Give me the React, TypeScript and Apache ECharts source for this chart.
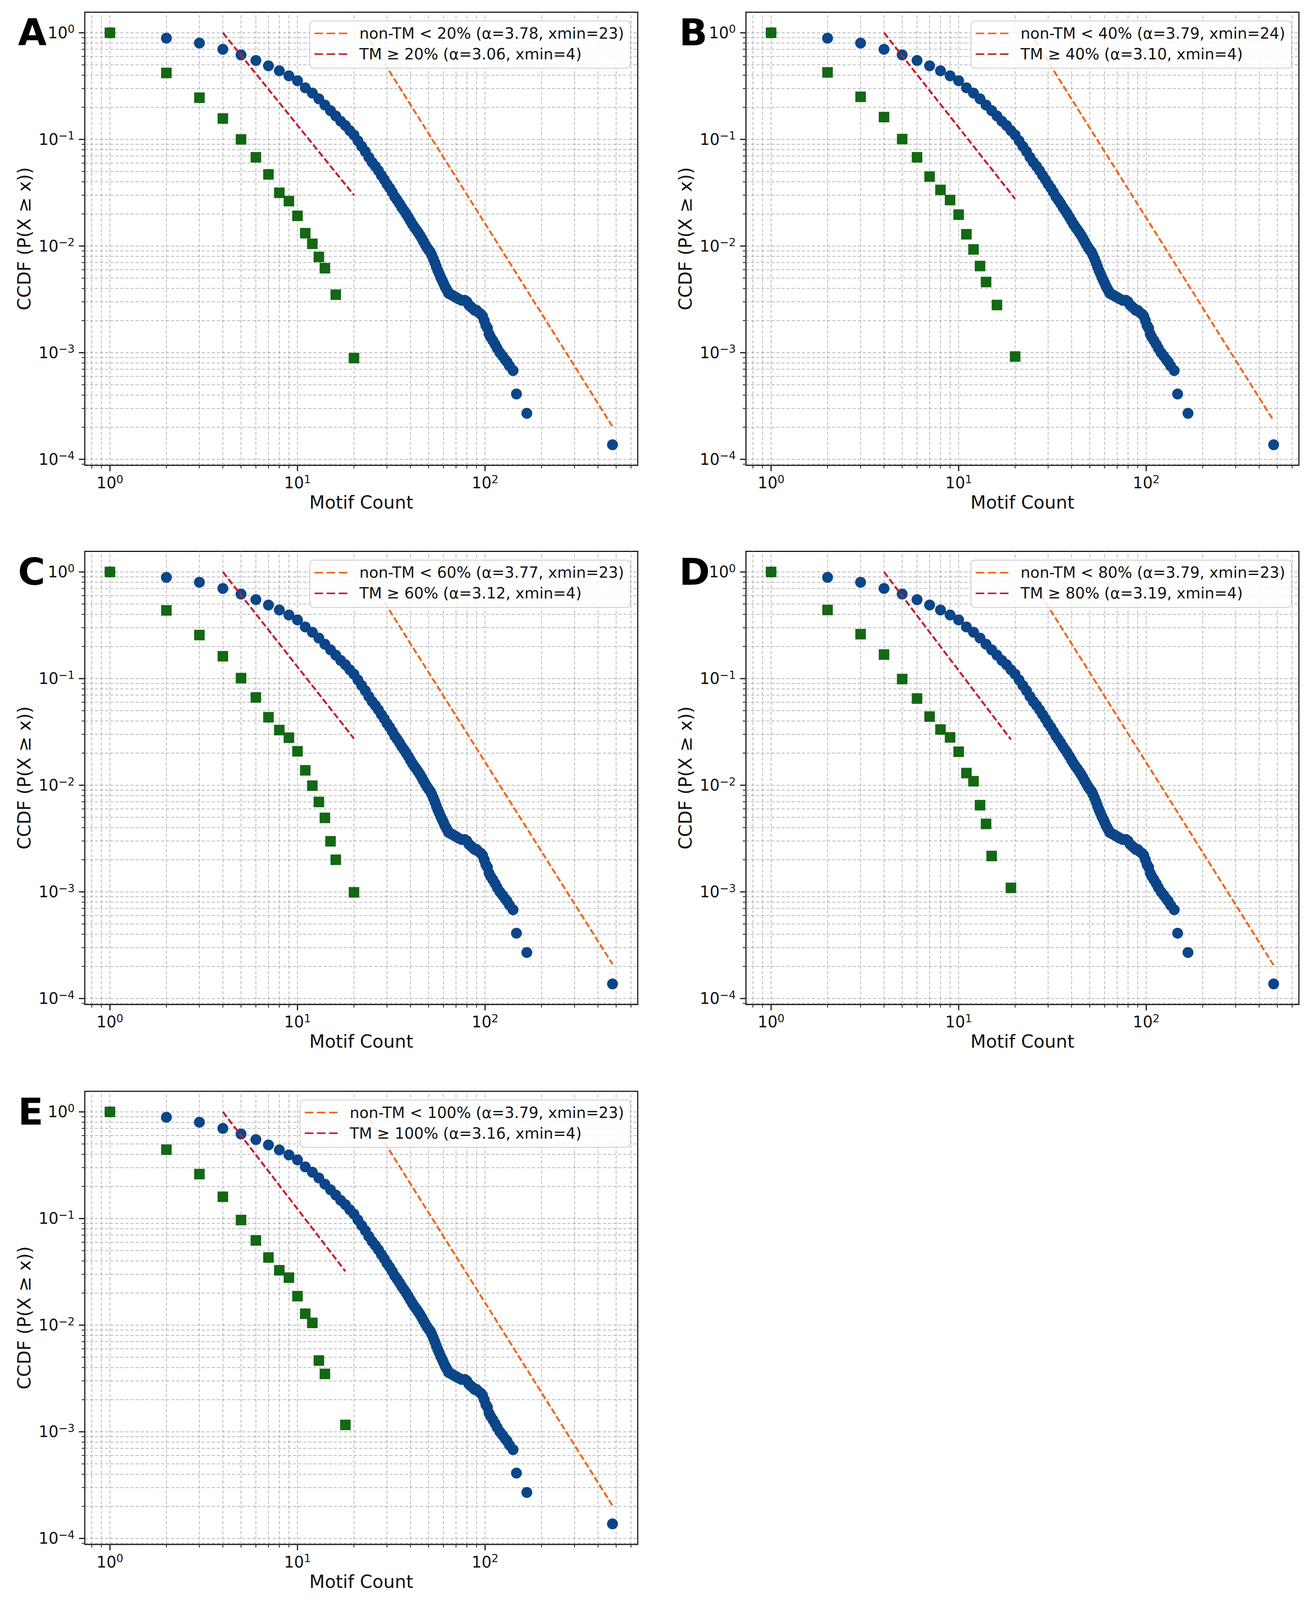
import React, { useEffect, useRef } from 'react';
import * as echarts from 'echarts';

const W = 3355;
const H = 4202;
const FONT = 'DejaVu Sans';

// ---- shared non-TM CCDF (blue circles) ----
const blueX = [1, 2, 3, 4, 5, 6, 7, 8, 9, 10, 11, 12, 13, 14, 15, 16, 17, 18, 19, 20,
  21, 22, 23, 24, 25, 26, 27, 28, 29, 30, 31, 32, 33, 34, 35, 36, 37, 38, 39, 40,
  41, 42, 43, 44, 45, 46, 47, 48, 49, 50, 51, 52, 53, 54, 55, 56, 57, 58, 59, 60,
  61, 62, 63, 64, 66, 68, 70, 72, 75, 78, 80, 82, 84, 86, 88, 90, 92, 95, 97, 99,
  101, 103, 105, 107, 110, 113, 116, 120, 124, 128, 131, 135, 141, 147, 167, 478];
const blueY = [1.0, 0.89, 0.80, 0.70, 0.62, 0.55, 0.49, 0.44, 0.395, 0.355, 0.305, 0.272, 0.240, 0.210, 0.186, 0.166, 0.148, 0.135, 0.121, 0.110,
  0.097, 0.086, 0.077, 0.068, 0.061, 0.056, 0.051, 0.046, 0.042, 0.038, 0.035, 0.032, 0.029, 0.027, 0.025, 0.023, 0.0215, 0.020, 0.0186, 0.0172,
  0.0160, 0.0150, 0.0142, 0.0134, 0.0126, 0.0118, 0.0110, 0.0103, 0.0097, 0.0092, 0.0088, 0.0082, 0.0076, 0.0070, 0.0064, 0.0059, 0.0055, 0.0051, 0.0048, 0.0045,
  0.0042, 0.0040, 0.0038, 0.0036, 0.0035, 0.0034, 0.0033, 0.0032, 0.0031, 0.0031, 0.0030, 0.0028, 0.0027, 0.0026, 0.0025, 0.0025, 0.0024, 0.0023, 0.0022, 0.0020,
  0.0018, 0.0017, 0.0015, 0.0014, 0.0013, 0.0012, 0.0011, 0.00100, 0.00093, 0.00086, 0.00082, 0.00075, 0.00068, 0.00041, 0.00027, 0.000137];

// ---- TM CCDF (green squares), one per panel ----
const tmXA = [1, 2, 3, 4, 5, 6, 7, 8, 9, 10, 11, 12, 13, 14, 16, 20];
const tmYA = [1.0, 0.42, 0.246, 0.157, 0.10, 0.068, 0.047, 0.0316, 0.0264, 0.0192, 0.0132, 0.0105, 0.0079, 0.0062, 0.0035, 0.00089];
const tmXB = [1, 2, 3, 4, 5, 6, 7, 8, 9, 10, 11, 12, 13, 14, 16, 20];
const tmYB = [1.0, 0.425, 0.251, 0.162, 0.1007, 0.068, 0.0448, 0.0336, 0.027, 0.0197, 0.0129, 0.0093, 0.0065, 0.0046, 0.0028, 0.00092];
const tmXC = [1, 2, 3, 4, 5, 6, 7, 8, 9, 10, 11, 12, 13, 14, 15, 16, 20];
const tmYC = [1.0, 0.436, 0.256, 0.162, 0.101, 0.0665, 0.0434, 0.0329, 0.0279, 0.0208, 0.0138, 0.0099, 0.00697, 0.00494, 0.00298, 0.0020, 0.00099];
const tmXD = [1, 2, 3, 4, 5, 6, 7, 8, 9, 10, 11, 12, 13, 14, 15, 19];
const tmYD = [1.0, 0.44, 0.261, 0.168, 0.099, 0.065, 0.044, 0.0333, 0.0281, 0.0206, 0.013, 0.0109, 0.0065, 0.00434, 0.00217, 0.00109];
const tmXE = [1, 2, 3, 4, 5, 6, 7, 8, 9, 10, 11, 12, 13, 14, 18];
const tmYE = [1.0, 0.442, 0.261, 0.16, 0.0968, 0.0623, 0.0431, 0.0327, 0.0279, 0.0187, 0.0128, 0.0105, 0.00466, 0.00349, 0.00116];

// ---- legend texts ----
const panelLetters = ['A', 'B', 'C', 'D', 'E'];
const thresholds = ['20%', '40%', '60%', '80%', '100%'];
const nonTmAlpha = ['3.78', '3.79', '3.77', '3.79', '3.79'];
const nonTmXmin = ['23', '24', '23', '23', '23'];
const tmAlpha = ['3.06', '3.10', '3.12', '3.19', '3.16'];
const tmXmin = ['4', '4', '4', '4', '4'];

// ---- fitted power-law lines (end points) ----
const nonTmFitX = [[23, 478], [24, 478], [23, 478], [23, 478], [23, 478]];
const nonTmFitY = [[1.0, 0.000203], [1.0, 0.00023], [1.0, 0.00021], [1.0, 0.000205], [1.0, 0.000203]];
const tmFitX = [[4, 20], [4, 20], [4, 20], [4, 19], [4, 18]];
const tmFitY = [[1.0, 0.030], [1.0, 0.0277], [1.0, 0.0274], [1.0, 0.0268], [1.0, 0.032]];

// ---- tick values ----
const xTickVals = [0.8, 0.9, 1, 2, 3, 4, 5, 6, 7, 8, 9, 10, 20, 30, 40, 50, 60, 70, 80, 90, 100, 200, 300, 400, 500, 600];
const yTickVals = [0.00009, 0.0001, 0.0002, 0.0003, 0.0004, 0.0005, 0.0006, 0.0007, 0.0008, 0.0009,
  0.001, 0.002, 0.003, 0.004, 0.005, 0.006, 0.007, 0.008, 0.009,
  0.01, 0.02, 0.03, 0.04, 0.05, 0.06, 0.07, 0.08, 0.09,
  0.1, 0.2, 0.3, 0.4, 0.5, 0.6, 0.7, 0.8, 0.9, 1];

const X_MIN = 0.7345;
const X_MAX = 651.6;
const Y_MIN = 0.0000879;
const Y_MAX = 1.56;

const BLUE = '#0c4689';
const GREEN = '#136813';
const ORANGE = '#f0661a';
const RED = '#c41e2b';

const DASH_ICON = 'path://M0,0H22V4H0Z M31,0H53V4H31Z M62,0H84V4H62Z';

const isPow10 = (v: number) => {
  const l = Math.log10(v);
  return Math.abs(l - Math.round(l)) < 1e-6;
};

const tickFormatter = (v: number) => {
  if (!isPow10(v)) return '';
  const e = Math.round(Math.log10(v));
  const es = e < 0 ? '\u2212' + String(-e) : String(e);
  return '{b|10}{s|' + es + '}';
};

const richLabel = {
  b: { fontSize: 40, fontFamily: FONT, color: '#111', lineHeight: 46, verticalAlign: 'middle' },
  s: { fontSize: 28, fontFamily: FONT, color: '#111', lineHeight: 22, verticalAlign: 'top' },
};

const PLOT_W = 1415;
const PLOT_H = 1190;
const gridPos = [
  { left: 217, top: 32 },
  { left: 1909, top: 32 },
  { left: 217, top: 1448 },
  { left: 1909, top: 1448 },
  { left: 217, top: 2866 },
];
const letterPos = [
  { x: 46, y: 86 },
  { x: 1738, y: 86 },
  { x: 46, y: 1502 },
  { x: 1738, y: 1502 },
  { x: 46, y: 2920 },
];

export default function App() {
  const ref = useRef<HTMLDivElement>(null);
  const vh = typeof window !== 'undefined' && window.innerHeight > 500 ? Math.min(H, window.innerHeight) : H;
  const sy = vh / H;

  useEffect(() => {
    document.body.style.margin = '0';
    document.body.style.overflow = 'hidden';
    if (!ref.current) return;
    const chart = echarts.init(ref.current, null, { renderer: 'svg', width: W, height: vh });

    const tmXs = [tmXA, tmXB, tmXC, tmXD, tmXE];
    const tmYs = [tmYA, tmYB, tmYC, tmYD, tmYE];

    const grids: any[] = [];
    const xAxes: any[] = [];
    const yAxes: any[] = [];
    const series: any[] = [];
    const legends: any[] = [];
    const graphics: any[] = [];

    for (let i = 0; i < 5; i++) {
      const g = gridPos[i];
      grids.push({
        left: g.left, top: g.top * sy, width: PLOT_W, height: PLOT_H * sy,
        show: true, borderColor: '#1a1a1a', borderWidth: 3, backgroundColor: 'transparent',
      });
      xAxes.push({
        gridIndex: i, type: 'log', logBase: 10, min: X_MIN, max: X_MAX,
        name: 'Motif Count', nameLocation: 'middle', nameGap: 72,
        nameTextStyle: { fontSize: 46, fontFamily: FONT, color: '#111' },
        axisLine: { show: false }, axisTick: { show: false }, splitLine: { show: false },
        minorTick: { show: false }, minorSplitLine: { show: false },
        axisLabel: { formatter: tickFormatter, margin: 22, rich: richLabel, showMinLabel: true, showMaxLabel: true },
      });
      yAxes.push({
        gridIndex: i, type: 'log', logBase: 10, min: Y_MIN, max: Y_MAX,
        name: 'CCDF (P(X \u2265 x))', nameLocation: 'middle', nameGap: 132,
        nameTextStyle: { fontSize: 46, fontFamily: FONT, color: '#111' },
        axisLine: { show: false }, axisTick: { show: false }, splitLine: { show: false },
        minorTick: { show: false }, minorSplitLine: { show: false },
        axisLabel: { formatter: tickFormatter, margin: 26, rich: richLabel },
      });

      // grid lines + ticks (x)
      series.push({
        type: 'custom', xAxisIndex: i, yAxisIndex: i, silent: true, clip: false, z: 1,
        data: xTickVals.map((v) => [v, Y_MIN]),
        renderItem: (params: any, api: any) => {
          const v = api.value(0);
          const b = api.coord([v, Y_MIN]);
          const t = api.coord([v, Y_MAX]);
          const major = isPow10(v);
          return {
            type: 'group',
            children: [
              { type: 'line', shape: { x1: b[0], y1: b[1], x2: t[0], y2: t[1] },
                style: { stroke: 'rgba(145,145,145,0.65)', lineWidth: 2, lineDash: [8, 5] } },
              { type: 'line', shape: { x1: b[0], y1: b[1], x2: b[0], y2: b[1] + (major ? 15 : 8) },
                style: { stroke: '#1a1a1a', lineWidth: major ? 3 : 2 } },
            ],
          };
        },
      });
      // grid lines + ticks (y)
      series.push({
        type: 'custom', xAxisIndex: i, yAxisIndex: i, silent: true, clip: false, z: 1,
        data: yTickVals.map((v) => [X_MIN, v]),
        renderItem: (params: any, api: any) => {
          const v = api.value(1);
          const l = api.coord([X_MIN, v]);
          const r = api.coord([X_MAX, v]);
          const major = isPow10(v);
          return {
            type: 'group',
            children: [
              { type: 'line', shape: { x1: l[0], y1: l[1], x2: r[0], y2: r[1] },
                style: { stroke: 'rgba(145,145,145,0.65)', lineWidth: 2, lineDash: [8, 5] } },
              { type: 'line', shape: { x1: l[0], y1: l[1], x2: l[0] - (major ? 15 : 8), y2: l[1] },
                style: { stroke: '#1a1a1a', lineWidth: major ? 3 : 2 } },
            ],
          };
        },
      });

      series.push({
        type: 'scatter', name: 'non-TM CCDF ' + panelLetters[i], xAxisIndex: i, yAxisIndex: i,
        data: blueX.map((x, k) => [x, blueY[k]]),
        symbol: 'circle', symbolSize: 28, itemStyle: { color: BLUE, opacity: 1 }, z: 2,
      });
      series.push({
        type: 'scatter', name: 'TM CCDF ' + panelLetters[i], xAxisIndex: i, yAxisIndex: i,
        data: tmXs[i].map((x, k) => [x, tmYs[i][k]]),
        symbol: 'rect', symbolSize: 27, itemStyle: { color: GREEN, opacity: 1 }, z: 3,
      });

      const nameNon = 'non-TM < ' + thresholds[i] + ' (\u03b1=' + nonTmAlpha[i] + ', xmin=' + nonTmXmin[i] + ')';
      const nameTm = 'TM \u2265 ' + thresholds[i] + ' (\u03b1=' + tmAlpha[i] + ', xmin=' + tmXmin[i] + ')';
      series.push({
        type: 'line', name: nameNon, xAxisIndex: i, yAxisIndex: i,
        data: nonTmFitX[i].map((x, k) => [x, nonTmFitY[i][k]]),
        symbol: 'none', z: 4,
        lineStyle: { color: ORANGE, width: 5, type: [16, 7] }, itemStyle: { color: ORANGE },
      });
      series.push({
        type: 'line', name: nameTm, xAxisIndex: i, yAxisIndex: i,
        data: tmFitX[i].map((x, k) => [x, tmFitY[i][k]]),
        symbol: 'none', z: 4,
        lineStyle: { color: RED, width: 5, type: [16, 7] }, itemStyle: { color: RED },
      });

      legends.push({
        data: [
          { name: nameNon, icon: DASH_ICON, itemStyle: { color: ORANGE } },
          { name: nameTm, icon: DASH_ICON, itemStyle: { color: RED } },
        ],
        orient: 'vertical',
        right: W - (g.left + PLOT_W - 19),
        top: (g.top + 23) * sy,
        itemWidth: 84, itemHeight: 5, itemGap: 9,
        padding: [10, 16, 14, 12],
        selectedMode: false,
        backgroundColor: 'rgba(255,255,255,0.85)',
        borderColor: '#cccccc', borderWidth: 2, borderRadius: 10,
        textStyle: { fontSize: 39, fontFamily: FONT, color: '#111', lineHeight: 44, padding: [0, 0, 0, 26] },
        z: 10,
      });

      graphics.push({
        type: 'text', left: letterPos[i].x, top: letterPos[i].y * sy - 48, z: 100,
        style: { text: panelLetters[i], font: 'bold 95px "DejaVu Sans"', fill: '#000' },
      });
    }

    chart.setOption({
      animation: false,
      backgroundColor: '#ffffff',
      grid: grids,
      xAxis: xAxes,
      yAxis: yAxes,
      legend: legends,
      series,
      graphic: graphics,
    });

    return () => chart.dispose();
  }, []);

  return <div ref={ref} style={{ width: W, height: vh }} />;
}
